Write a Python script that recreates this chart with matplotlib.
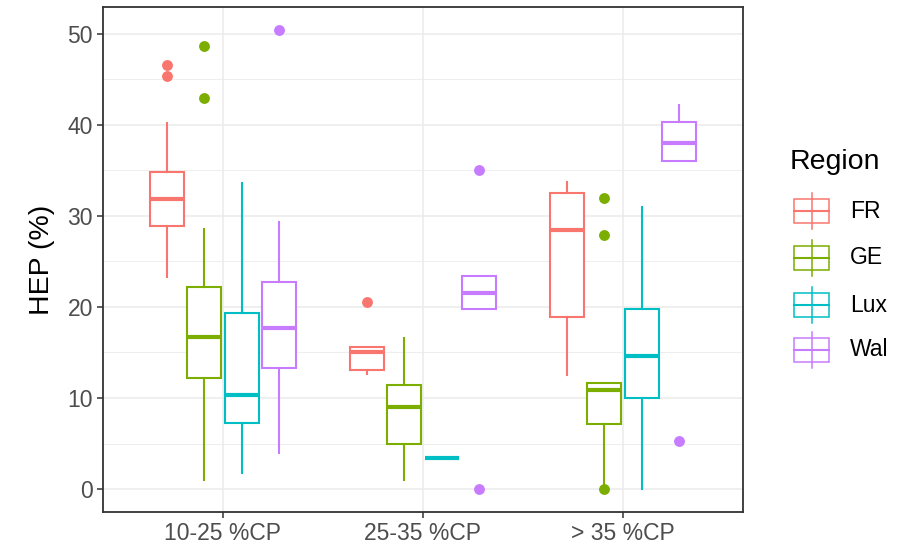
import matplotlib
matplotlib.use("Agg")
import matplotlib.pyplot as plt
from matplotlib.patches import Rectangle

plt.rcParams['font.family'] = ['Liberation Sans', 'DejaVu Sans']

# Datos (estadisticos de cada caja)
grupos = ["10-25 %CP", "25-35 %CP", "> 35 %CP"]
regiones = ["FR", "GE", "Lux", "Wal"]
colores = ["#F8766D", "#7CAE00", "#00BFC4", "#C77CFF"]

# orden: [grupo][region]
bigote_bajo = [[23.3, 1.0, 1.8, 4.0],
               [12.6, 1.0, 3.4, 19.8],
               [12.5, 0.5, 0.0, 36.0]]
q1 = [[28.9, 12.2, 7.3, 13.3],
      [13.1, 4.9, 3.4, 19.8],
      [18.9, 7.1, 10.0, 36.0]]
mediana = [[31.8, 16.7, 10.3, 17.7],
           [15.0, 9.0, 3.4, 21.5],
           [28.4, 10.9, 14.6, 38.0]]
q3 = [[34.8, 22.2, 19.3, 22.7],
      [15.6, 11.4, 3.4, 23.4],
      [32.5, 11.6, 19.8, 40.3]]
bigote_alto = [[40.2, 28.5, 33.6, 29.3],
               [15.6, 16.6, 3.4, 23.4],
               [33.7, 11.6, 31.0, 42.2]]
atipicos = [[[46.5, 45.3], [48.6, 42.9], [], [50.4]],
            [[20.5], [], [], [35.0, 0.0]],
            [[], [31.9, 27.9, 0.0], [], [5.3]]]

fig = plt.figure(figsize=(9.15, 5.48), dpi=100)
ax = fig.add_axes([103/915, 36/548, 640/915, 505/548])

desplaz = [-0.28125, -0.09375, 0.09375, 0.28125]

# Rejilla estilo theme_bw
for y in [5, 15, 25, 35, 45]:
    ax.axhline(y, color="#EBEBEB", lw=0.6, zorder=0)
for y in [0, 10, 20, 30, 40, 50]:
    ax.axhline(y, color="#EBEBEB", lw=1.1, zorder=0)
for x in [1, 2, 3]:
    ax.axvline(x, color="#EBEBEB", lw=1.1, zorder=0)

for g in range(len(grupos)):
    for r in range(len(regiones)):
        st = [dict(whislo=bigote_bajo[g][r], q1=q1[g][r], med=mediana[g][r],
                   q3=q3[g][r], whishi=bigote_alto[g][r], fliers=atipicos[g][r])]
        c = colores[r]
        ax.bxp(st, positions=[g + 1 + desplaz[r]], widths=0.172,
               patch_artist=True, showcaps=False,
               boxprops=dict(facecolor="white", edgecolor=c, lw=1.5),
               whiskerprops=dict(color=c, lw=1.5),
               medianprops=dict(color=c, lw=3.0),
               flierprops=dict(marker="o", markerfacecolor=c, markeredgecolor=c,
                               markersize=6.8),
               manage_ticks=False, zorder=2)

ax.set_xlim(0.4, 3.6)
ax.set_ylim(-2.52, 52.92)
ax.set_xticks([1, 2, 3])
ax.set_xticklabels(grupos)
ax.set_yticks([0, 10, 20, 30, 40, 50])
ax.tick_params(colors="#333333", labelcolor="#4D4D4D", labelsize=16.5,
               length=4.3, width=1.1, pad=3)
for s in ax.spines.values():
    s.set_color("#333333")
    s.set_linewidth(1.3)
ax.set_ylabel("HEP (%)", fontsize=20.5, labelpad=9)

# Leyenda dibujada a mano
lg = fig.add_axes([0, 0, 1, 1])
lg.set_xlim(0, 915)
lg.set_ylim(548, 0)
lg.axis("off")
lg.text(790, 162, "Region", fontsize=20.5, va="center", ha="left")
centros = [211, 258, 305, 350]
for r in range(len(regiones)):
    cy = centros[r]
    c = colores[r]
    lg.plot([811.5, 811.5], [cy - 18, cy + 18], color=c, lw=1.1)
    lg.add_patch(Rectangle((794, cy - 12), 35, 24, facecolor="white",
                           edgecolor=c, lw=1.1))
    lg.plot([794, 829], [cy, cy], color=c, lw=1.5)
    lg.text(850, cy, regiones[r], fontsize=16.5, va="center", ha="left")

plt.savefig("out.png", dpi=100)
